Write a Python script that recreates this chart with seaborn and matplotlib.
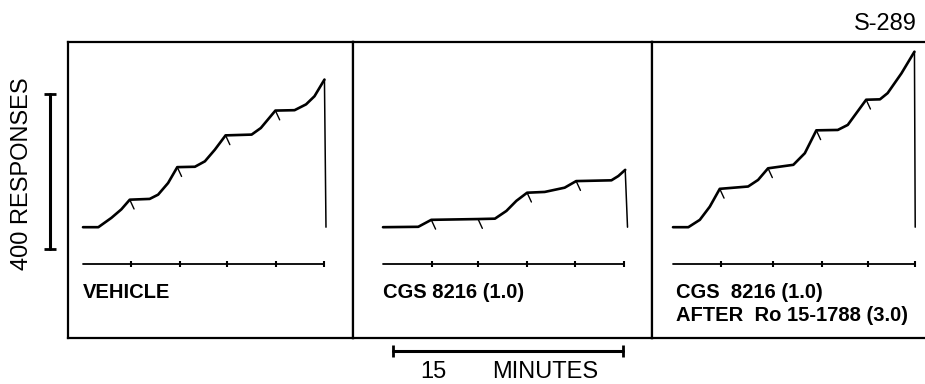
import numpy as np
import pandas as pd
import matplotlib
matplotlib.use("Agg")
import matplotlib.pyplot as plt
import seaborn as sns

# Cumulative records: time (minutes) vs cumulative responses
# last point of each record is the pen reset
vehicle_t = [0, 1.0, 1.85, 2.5, 3.05, 4.35, 4.9, 5.55, 6.15, 7.3, 7.95, 8.6, 9.3,
             11.0, 11.6, 12.55, 13.8, 14.55, 15.1, 15.75, 15.85]
vehicle_r = [0, 0, 24, 46, 71, 73, 84, 114, 155, 156, 170, 200, 237,
             239, 256, 301, 302, 317, 338, 381, 0]

cgs_t = [0, 2.3, 3.15, 6.2, 7.3, 8.05, 8.7, 9.4, 10.55, 11.85, 12.6, 14.9, 15.35, 15.8, 15.95]
cgs_r = [0, 1, 19, 21, 22, 42, 68, 89, 91, 102, 119, 121, 132, 148, 0]

ro_t = [0, 1.0, 1.75, 2.4, 3.05, 4.9, 5.55, 6.2, 7.85, 8.6, 9.35, 10.75, 11.4,
        12.6, 13.5, 14.0, 14.9, 15.75, 15.8]
ro_r = [0, 0, 19, 53, 99, 105, 122, 152, 161, 191, 250, 251, 264,
        329, 330, 346, 397, 453, 0]

# pen pips (end of each ratio) and event-pen marks, minutes
vehicle_pips = [3.05, 6.15, 9.3, 12.55]
cgs_pips = [3.15, 6.2, 9.4, 12.6]
ro_pips = [3.05, 6.2, 9.35, 12.6]

vehicle_events = [3.1, 6.3, 9.4, 12.6, 15.7]
cgs_events = [3.2, 6.2, 9.4, 12.5, 15.7]
ro_events = [3.1, 6.5, 9.7, 12.7, 15.8]

panel_labels = ["VEHICLE", "CGS 8216 (1.0)", "CGS  8216 (1.0)\nAFTER  Ro 15-1788 (3.0)"]

sns.set_style("white")
plt.rcParams["font.family"] = ["Liberation Sans", "DejaVu Sans"]
plt.rcParams["text.color"] = "black"

W, H = 925, 384
fig = plt.figure(figsize=(W / 100, H / 100), dpi=100)

# axes boxes in pixels (left, right); all share top/bottom
boxes = [(68, 353), (353, 652), (652, 925)]
origins = [83, 383, 673]  # pixel x where each record starts
top, bottom = 42, 338
px_per_min = 15.33
ylim = (-286, 478)

records = [(vehicle_t, vehicle_r, vehicle_pips, vehicle_events),
           (cgs_t, cgs_r, cgs_pips, cgs_events),
           (ro_t, ro_r, ro_pips, ro_events)]

axes = []
for i, ((l, r), x0, (t, resp, pips, events)) in enumerate(zip(boxes, origins, records)):
    ax = fig.add_axes([l / W, 1 - bottom / H, (r - l) / W, (bottom - top) / H])
    ax.set_xlim((l - x0) / px_per_min, (r - x0) / px_per_min)
    ax.set_ylim(*ylim)
    df = pd.DataFrame({"t": t[:-1], "r": resp[:-1]})
    sns.lineplot(data=df, x="t", y="r", ax=ax, color="black", lw=1.9,
                 sort=False, estimator=None)
    # pen reset stroke
    ax.plot(t[-2:], resp[-2:], color="black", lw=1.1)

    # pips: short slashes down-right from the curve
    pip_r = np.interp(pips, t[:-1], resp[:-1])
    for pt, pr in zip(pips, pip_r):
        ax.plot([pt, pt + 0.28], [pr, pr - 24], color="black", lw=1.0)

    # event pen line with marks
    ev_y = -96
    ax.plot([0, events[-1]], [ev_y, ev_y], color="black", lw=1.3)
    ax.plot(events, [ev_y] * len(events), ls="none", marker="|",
            color="black", ms=5, mew=1.5)

    ax.text(0.2 if i == 2 else 0, -144, panel_labels[i], ha="left", va="top",
            fontsize=14.5, fontweight="bold", linespacing=1.25)

    ax.set_xticks([])
    ax.set_yticks([])
    ax.set_xlabel("")
    ax.set_ylabel("")
    for s in ax.spines.values():
        s.set_color("black")
        s.set_linewidth(1.6)
    if i == 2:
        ax.spines["right"].set_visible(False)
    axes.append(ax)

# response scale bar: 400 responses
ax1 = axes[0]
bar_x = (50 - origins[0]) / px_per_min
ax1.plot([bar_x, bar_x], [-57, 343], color="black", lw=2.2, clip_on=False)
ax1.plot([bar_x, bar_x], [-57, 343], ls="none", marker="_", ms=8, mew=2,
         color="black", clip_on=False)
ax1.text((22 - origins[0]) / px_per_min, 137, "400 RESPONSES", rotation=90,
         ha="center", va="center", fontsize=17, clip_on=False)

# time scale bar: 15 minutes
ax2 = axes[1]
ax2.plot([0.65, 15.65], [-320, -320], color="black", lw=2.2, clip_on=False)
ax2.plot([0.65, 15.65], [-320, -320], ls="none", marker="|", ms=8, mew=2,
         color="black", clip_on=False)
ax2.text(3.3, -374, "15", ha="center", va="center", fontsize=17, clip_on=False)
ax2.text(10.6, -374, "MINUTES", ha="center", va="center", fontsize=17, clip_on=False)

fig.text(885 / W, 1 - 24 / H, "S-289", ha="center", va="center", fontsize=17)

fig.savefig("out.png", dpi=100)
